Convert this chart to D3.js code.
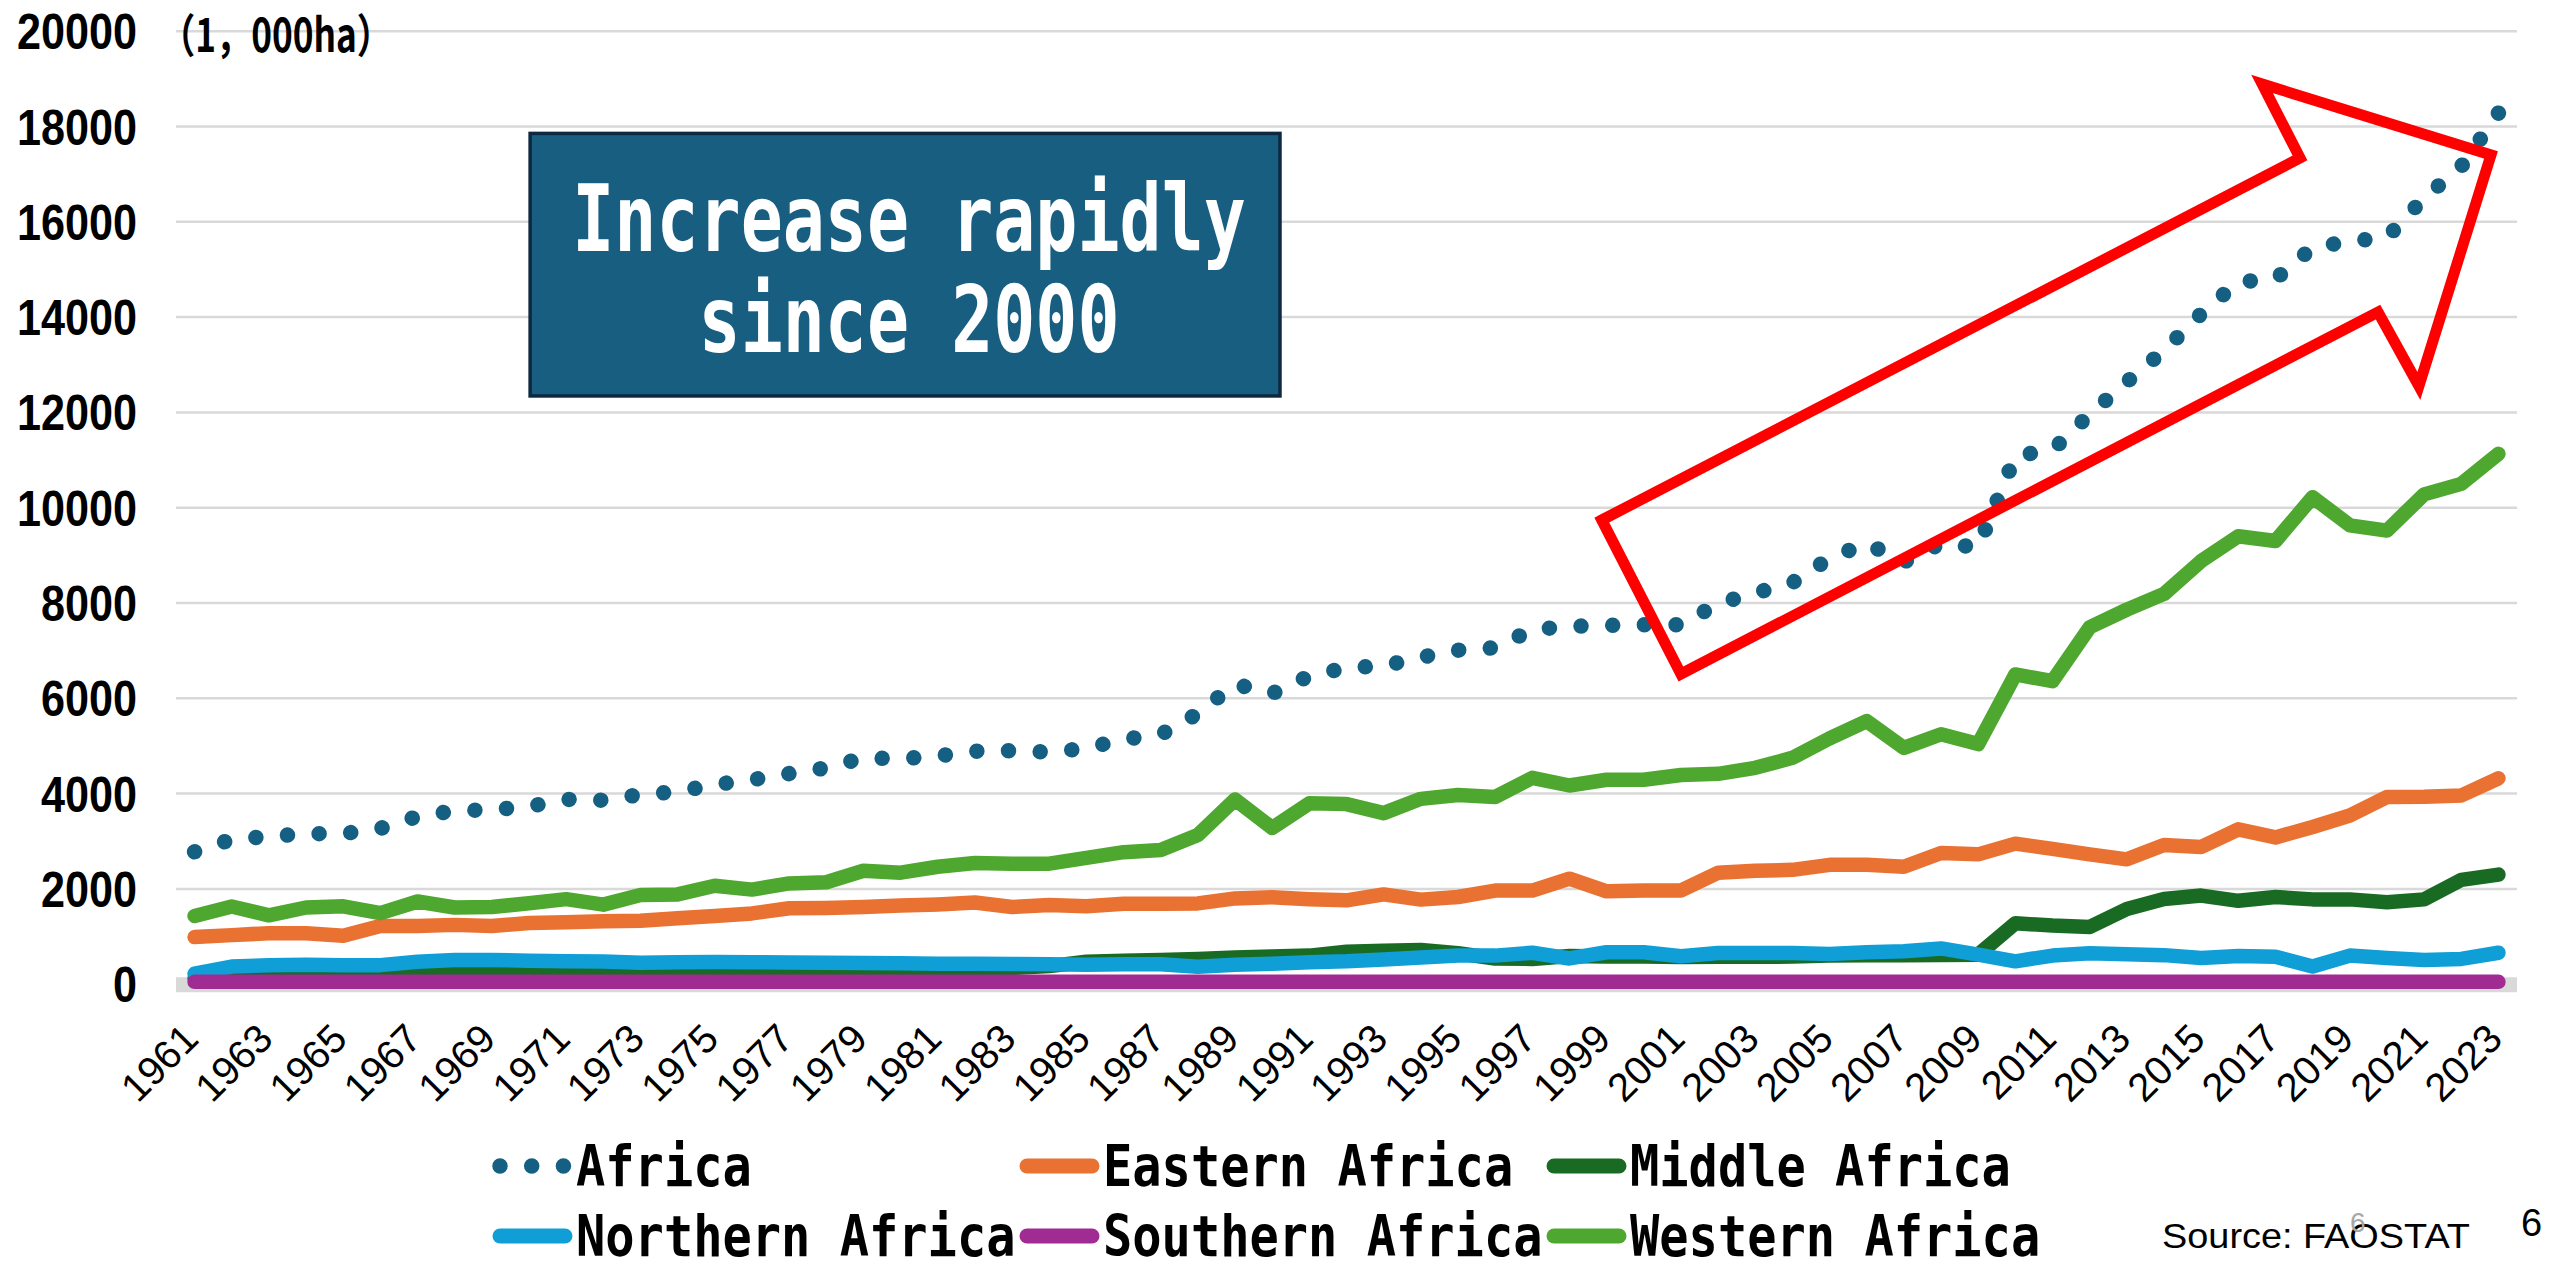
<!DOCTYPE html>
<html><head><meta charset="utf-8">
<script src="https://cdn.jsdelivr.net/npm/d3@7"></script>
<style>html,body{margin:0;padding:0;background:#fff;overflow:hidden}</style>
</head><body>
<svg id="chart" width="2552" height="1268"></svg>
<script>
// ---------- data (1,000 ha) ----------
const years = [1961,1962,1963,1964,1965,1966,1967,1968,1969,1970,
  1971,1972,1973,1974,1975,1976,1977,1978,1979,1980,
  1981,1982,1983,1984,1985,1986,1987,1988,1989,1990,
  1991,1992,1993,1994,1995,1996,1997,1998,1999,2000,
  2001,2002,2003,2004,2005,2006,2007,2008,2009,2010,
  2011,2012,2013,2014,2015,2016,2017,2018,2019,2020,
  2021,2022,2023];
const africa = [2780,3040,3100,3160,3160,3270,3520,3640,3660,3730,
  3880,3860,3980,4040,4190,4290,4420,4540,4750,4730,
  4790,4890,4900,4870,4950,5140,5240,5680,6300,6100,
  6470,6640,6680,6860,7010,7060,7440,7510,7530,7545,
  7545,7985,8210,8425,8940,9250,8860,9250,9170,11090,
  11210,11960,12640,13300,14070,14740,14800,15460,15590,15670,
  16500,17160,18280];
const eastern = [990,1030,1070,1070,1015,1220,1220,1245,1220,1285,
  1300,1320,1330,1385,1430,1485,1595,1600,1620,1650,
  1675,1715,1620,1660,1635,1690,1690,1695,1800,1825,
  1785,1760,1885,1775,1830,1965,1965,2215,1950,1965,
  1965,2340,2380,2400,2505,2505,2465,2755,2725,2950,
  2840,2725,2620,2920,2880,3250,3080,3300,3540,3930,
  3935,3960,4320];
const middle = [130,200,250,260,250,240,300,340,340,330,
  330,320,310,310,320,320,310,330,330,320,
  320,330,340,380,470,490,510,530,560,580,
  600,680,700,720,650,540,530,590,580,580,
  570,575,575,580,600,610,610,615,620,1280,
  1230,1200,1580,1790,1860,1750,1830,1780,1780,1720,
  1780,2190,2300];
const northern = [220,370,400,410,400,400,470,510,510,490,
  480,475,450,460,465,460,455,450,445,440,
  430,430,425,420,410,420,420,365,410,430,
  460,480,520,560,600,600,660,540,670,670,
  585,655,655,655,635,670,690,750,620,480,
  600,650,630,610,550,590,575,370,600,550,
  510,530,660];
const southern = [50,50,50,50,50,50,50,50,50,50,
  50,50,50,50,50,50,50,50,50,50,
  50,50,50,50,50,50,50,50,50,50,
  50,50,50,50,50,50,50,50,50,50,
  50,50,50,50,50,50,50,50,50,50,
  50,50,50,50,50,50,50,50,50,50,
  50,50,50];
const western = [1430,1630,1445,1610,1635,1490,1735,1610,1620,1700,
  1785,1670,1870,1885,2065,1985,2115,2140,2380,2340,
  2465,2545,2530,2530,2650,2770,2815,3130,3875,3280,
  3795,3780,3590,3890,3970,3930,4330,4170,4290,4290,
  4390,4415,4540,4750,5160,5520,4960,5245,5040,6500,
  6360,7490,7860,8190,8880,9400,9300,10220,9630,9520,
  10280,10500,11130];
const yTicks = [0,2000,4000,6000,8000,10000,12000,14000,16000,18000,20000];
const xTickLabels = years.filter((d,i) => i % 2 === 0);
const seriesNames = ["Africa","Eastern Africa","Middle Africa","Northern Africa","Southern Africa","Western Africa"];
const seriesValues = [africa, eastern, middle, northern, southern, western];
const unitLabel = "（1，000ha）";
const boxLines = ["Increase rapidly","since 2000"];
const sourceLabel = "Source: FAOSTAT";
// annotation arrow vertices in data space [year, value]
const arrowPts = [[1998.87,9742],[2017.66,17339],[2016.64,18892],[2022.80,17402],[2020.86,12554],[2019.76,14107],[2001.0,6510]];
// annotation box in data space
const boxArea = {x0:1970.03, x1:1990.21, y0:17855, y1:12345};

// ---------- styles / layout ----------
const colors = ["#156082","#e97132","#196b24","#0f9ed5","#a02b93","#4ea72e"];
const W = 2552, H = 1268;
const plot = {left:176, right:2517, top:31.2, bottom:984.2};

const svg = d3.select("#chart");
svg.append("rect").attr("width",W).attr("height",H).attr("fill","#fff");

const xs = d3.scaleLinear().domain([years[0]-0.5, years[years.length-1]+0.5]).range([plot.left, plot.right]);
const ys = d3.scaleLinear().domain([0,20000]).range([plot.bottom, plot.top]);

// gridlines
svg.append("g").selectAll("line").data(yTicks.filter(d=>d>0)).join("line")
  .attr("x1",plot.left).attr("x2",plot.right)
  .attr("y1",d=>ys(d)).attr("y2",d=>ys(d))
  .attr("stroke","#d9d9d9").attr("stroke-width",2.5);
// category axis line
svg.append("line").attr("x1",plot.left).attr("x2",plot.right)
  .attr("y1",ys(0)+0.5).attr("y2",ys(0)+0.5)
  .attr("stroke","#d9d9d9").attr("stroke-width",15);

// y labels
const yl = svg.append("g").attr("font-family","'Liberation Sans',Arial,sans-serif").attr("font-weight","700").attr("font-size",50).attr("fill","#000");
yTicks.forEach(v=>{
  const s = String(v), w = s.length*24;
  yl.append("text").attr("x",137-w).attr("y",ys(v)+18)
    .attr("textLength",w).attr("lengthAdjust","spacingAndGlyphs").text(s);
});
svg.append("text").attr("x",160).attr("y",52)
  .attr("font-family","'Noto Sans CJK JP',sans-serif").attr("font-weight","700").attr("font-size",46)
  .attr("textLength",232).attr("lengthAdjust","spacingAndGlyphs").text(unitLabel);

// x labels
const xl = svg.append("g").attr("font-family","'Liberation Sans',Arial,sans-serif").attr("font-size",40).attr("fill","#000");
xTickLabels.forEach(yr=>{
  const ax = xs(yr)+6, ay = 1041;
  xl.append("text").attr("x",ax).attr("y",ay).attr("text-anchor","end")
    .attr("transform",`rotate(-45,${ax},${ay})`).text(yr);
});

// series
const line = d3.line().x((d,i)=>xs(years[i])).y(d=>ys(d));
seriesValues.forEach((vals,k)=>{
  const p = svg.append("path").attr("d",line(vals)).attr("fill","none")
    .attr("stroke",colors[k]).attr("stroke-linecap","round").attr("stroke-linejoin","round");
  if(k===0){
    const L = p.node().getTotalLength();
    const period = L / Math.round(L/31.7);
    p.attr("stroke-width",15.5).attr("stroke-dasharray",`0.02 ${period-0.02}`).attr("stroke-dashoffset",0.01);
  }
  else { p.attr("stroke-width",14.5); }
});

// annotation box
const bx0 = xs(boxArea.x0), bx1 = xs(boxArea.x1), by0 = ys(boxArea.y0), by1 = ys(boxArea.y1);
svg.append("rect").attr("x",bx0).attr("y",by0).attr("width",bx1-bx0).attr("height",by1-by0)
  .attr("fill","#175e80").attr("stroke","#0e2841").attr("stroke-width",3.5);
const bcx = (bx0+bx1)/2 + 4;
const bt = svg.append("g").attr("font-family","'DejaVu Sans Mono',monospace").attr("font-weight","700")
  .attr("font-size",93).attr("fill","#fff");
boxLines.forEach((t,i)=>{
  const w = t.length*42.1;
  bt.append("text").attr("x",bcx-w/2).attr("y",by0+118+i*101)
    .attr("textLength",w).attr("lengthAdjust","spacingAndGlyphs").text(t);
});

// arrow
svg.append("polygon").attr("points",arrowPts.map(p=>[xs(p[0]),ys(p[1])].join(",")).join(" "))
  .attr("fill","none").attr("stroke","#ff0000").attr("stroke-width",11).attr("stroke-linejoin","miter").attr("stroke-miterlimit",10);

// legend
const lg = svg.append("g");
const colX = [493,1020,1547], rowY = [1166,1236];
seriesNames.forEach((n,k)=>{
  const cx = colX[k%3], cy = rowY[Math.floor(k/3)];
  const l = lg.append("line").attr("x1",cx+7).attr("x2",cx+72).attr("y1",cy).attr("y2",cy)
    .attr("stroke",colors[k]).attr("stroke-linecap","round");
  if(k===0) l.attr("stroke-width",15.5).attr("stroke-dasharray","0.01 31.7");
  else l.attr("stroke-width",15);
  const w = n.length*29.3;
  lg.append("text").attr("x",cx+83).attr("y",cy+20)
    .attr("font-family","'DejaVu Sans Mono',monospace").attr("font-weight","700").attr("font-size",57)
    .attr("textLength",w).attr("lengthAdjust","spacingAndGlyphs").attr("fill","#000").text(n);
});

// source & page number
svg.append("text").attr("x",2162).attr("y",1248).attr("font-family","'Liberation Sans',Arial,sans-serif")
  .attr("font-size",35).attr("textLength",308).attr("lengthAdjust","spacingAndGlyphs").attr("fill","#000").text(sourceLabel);
svg.append("text").attr("x",2350).attr("y",1232).attr("font-family","'Liberation Sans',Arial,sans-serif")
  .attr("font-size",28).attr("fill","#a6a6a6").text("6");
svg.append("text").attr("x",2521).attr("y",1236).attr("font-family","'Liberation Sans',Arial,sans-serif")
  .attr("font-size",38).attr("fill","#000").text("6");
</script>
</body></html>
